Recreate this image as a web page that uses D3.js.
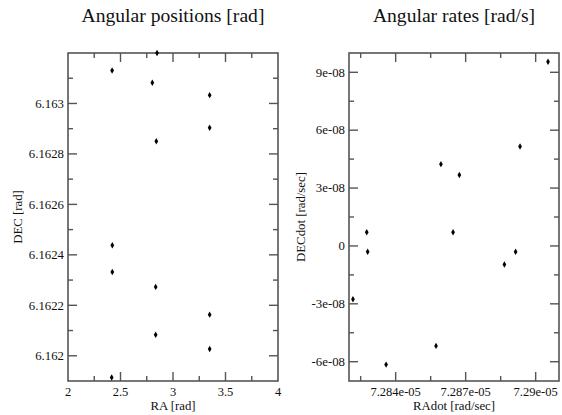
<!DOCTYPE html>
<head>
<meta charset="utf-8">
<script src="https://cdn.jsdelivr.net/npm/d3@7"></script>
<style>
body { margin: 0; background: #fff; }
text { font-family: "Liberation Serif", "DejaVu Serif", serif; fill: #111; }
</style>
</head>
<body>
<script>
// positions [rad]
var raPos  = [2.42, 2.848, 2.803, 3.349, 3.349, 2.841, 2.422, 2.422, 2.835, 3.349, 2.835, 3.349, 2.416];
var decPos = [6.163131, 6.1632, 6.163082, 6.163033, 6.162904, 6.16285, 6.162438, 6.162332,
              6.162273, 6.162163, 6.162083, 6.162027, 6.161914];
// rates [rad/sec]
var raDot  = [7.29053e-5, 7.28594e-5, 7.28673e-5, 7.28933e-5, 7.28276e-5, 7.28280e-5,
              7.28646e-5, 7.28866e-5, 7.28914e-5, 7.28217e-5, 7.28359e-5, 7.28573e-5];
var decDot = [9.55e-8, 4.24e-8, 3.68e-8, 5.15e-8, 0.71e-8, -0.3e-8,
              0.71e-8, -0.96e-8, -0.3e-8, -2.76e-8, -6.15e-8, -5.18e-8];

// axis ranges and ticks
var posX = {dom: [2, 4], major: [2, 2.5, 3, 3.5, 4], minor: [2.25, 2.75, 3.25, 3.75]};
var posY = {dom: [6.1619, 6.1632],
  major: [6.162, 6.1622, 6.1624, 6.1626, 6.1628, 6.163],
  minor: [6.1621, 6.1623, 6.1625, 6.1627, 6.1629, 6.1631]};
var rateX = {dom: [7.282e-5, 7.291e-5], major: [7.284e-5, 7.287e-5, 7.29e-5],
  minor: [7.2825e-5, 7.2855e-5, 7.2885e-5]};
var rateY = {dom: [-7e-8, 1e-7], major: [-6e-8, -3e-8, 0, 3e-8, 6e-8, 9e-8],
  minor: [-4.5e-8, -1.5e-8, 1.5e-8, 4.5e-8, 7.5e-8]};

var width = 562, height = 415;
var svg = d3.select("body").append("svg")
  .attr("width", width)
  .attr("height", height);

function plainFmt(v) { return String(+v.toPrecision(6)); }
function expFmt(v) {
  if (v == 0) return "0";
  var s = (+v.toPrecision(6)).toExponential();
  return s.replace(/e([+-])(\d)$/, "e$10$2");
}

function panel(x0, x1, y0, y1, xs, ys, xv, yv, fmt, title, xlab, ylab, ylabX) {
  var x = d3.scaleLinear().domain(xs.dom).range([x0, x1]);
  var y = d3.scaleLinear().domain(ys.dom).range([y1, y0]);
  var g = svg.append("g");
  var col = "#555";

  g.append("rect")
    .attr("x", x0).attr("y", y0)
    .attr("width", x1 - x0).attr("height", y1 - y0)
    .attr("fill", "none").attr("stroke", col).attr("stroke-width", 1.6);

  // inward ticks on all four sides
  function tk(vals, len) {
    vals.forEach(function(v) {
      var px = x(v);
      g.append("line").attr("x1", px).attr("x2", px).attr("y1", y1).attr("y2", y1 - len)
        .attr("stroke", col).attr("stroke-width", 1.4);
      g.append("line").attr("x1", px).attr("x2", px).attr("y1", y0).attr("y2", y0 + len)
        .attr("stroke", col).attr("stroke-width", 1.4);
    });
  }
  function tky(vals, len) {
    vals.forEach(function(v) {
      var py = y(v);
      g.append("line").attr("x1", x0).attr("x2", x0 + len).attr("y1", py).attr("y2", py)
        .attr("stroke", col).attr("stroke-width", 1.4);
      g.append("line").attr("x1", x1).attr("x2", x1 - len).attr("y1", py).attr("y2", py)
        .attr("stroke", col).attr("stroke-width", 1.4);
    });
  }
  tk(xs.major.filter(function(v) { return x(v) > x0 + 1 && x(v) < x1 - 1; }), 9);
  tk(xs.minor, 5);
  tky(ys.major, 9);
  tky(ys.minor, 5);

  g.selectAll(".xl").data(xs.major).enter().append("text")
    .attr("x", function(d) { return x(d); })
    .attr("y", y1 + 14.5)
    .attr("text-anchor", "middle")
    .style("font-size", "12.5px")
    .text(fmt);
  g.selectAll(".yl").data(ys.major).enter().append("text")
    .attr("x", x0 - 4)
    .attr("y", function(d) { return y(d) + 4.3; })
    .attr("text-anchor", "end")
    .style("font-size", "12.8px")
    .text(fmt);

  g.append("text")
    .attr("x", (x0 + x1) / 2).attr("y", 22)
    .attr("text-anchor", "middle")
    .style("font-size", "19.6px")
    .text(title);
  g.append("text")
    .attr("x", (x0 + x1) / 2).attr("y", 409.5)
    .attr("text-anchor", "middle")
    .style("font-size", "12.8px")
    .text(xlab);
  g.append("text")
    .attr("transform", "translate(" + ylabX + "," + ((y0 + y1) / 2) + ") rotate(-90)")
    .attr("text-anchor", "middle")
    .style("font-size", "12.8px")
    .text(ylab);

  g.selectAll("path.pt").data(xv).enter().append("path")
    .attr("class", "pt")
    .attr("transform", function(d, i) { return "translate(" + x(d) + "," + y(yv[i]) + ")"; })
    .attr("d", d3.symbol().type(d3.symbolDiamond).size(12))
    .attr("fill", "#000");
}

panel(68, 278, 53, 381, posX, posY, raPos, decPos, plainFmt,
  "Angular positions [rad]", "RA [rad]", "DEC [rad]", 22);
panel(349, 559, 53, 381, rateX, rateY, raDot, decDot, expFmt,
  "Angular rates [rad/s]", "RAdot [rad/sec]", "DECdot [rad/sec]", 305);
</script>
</body>
